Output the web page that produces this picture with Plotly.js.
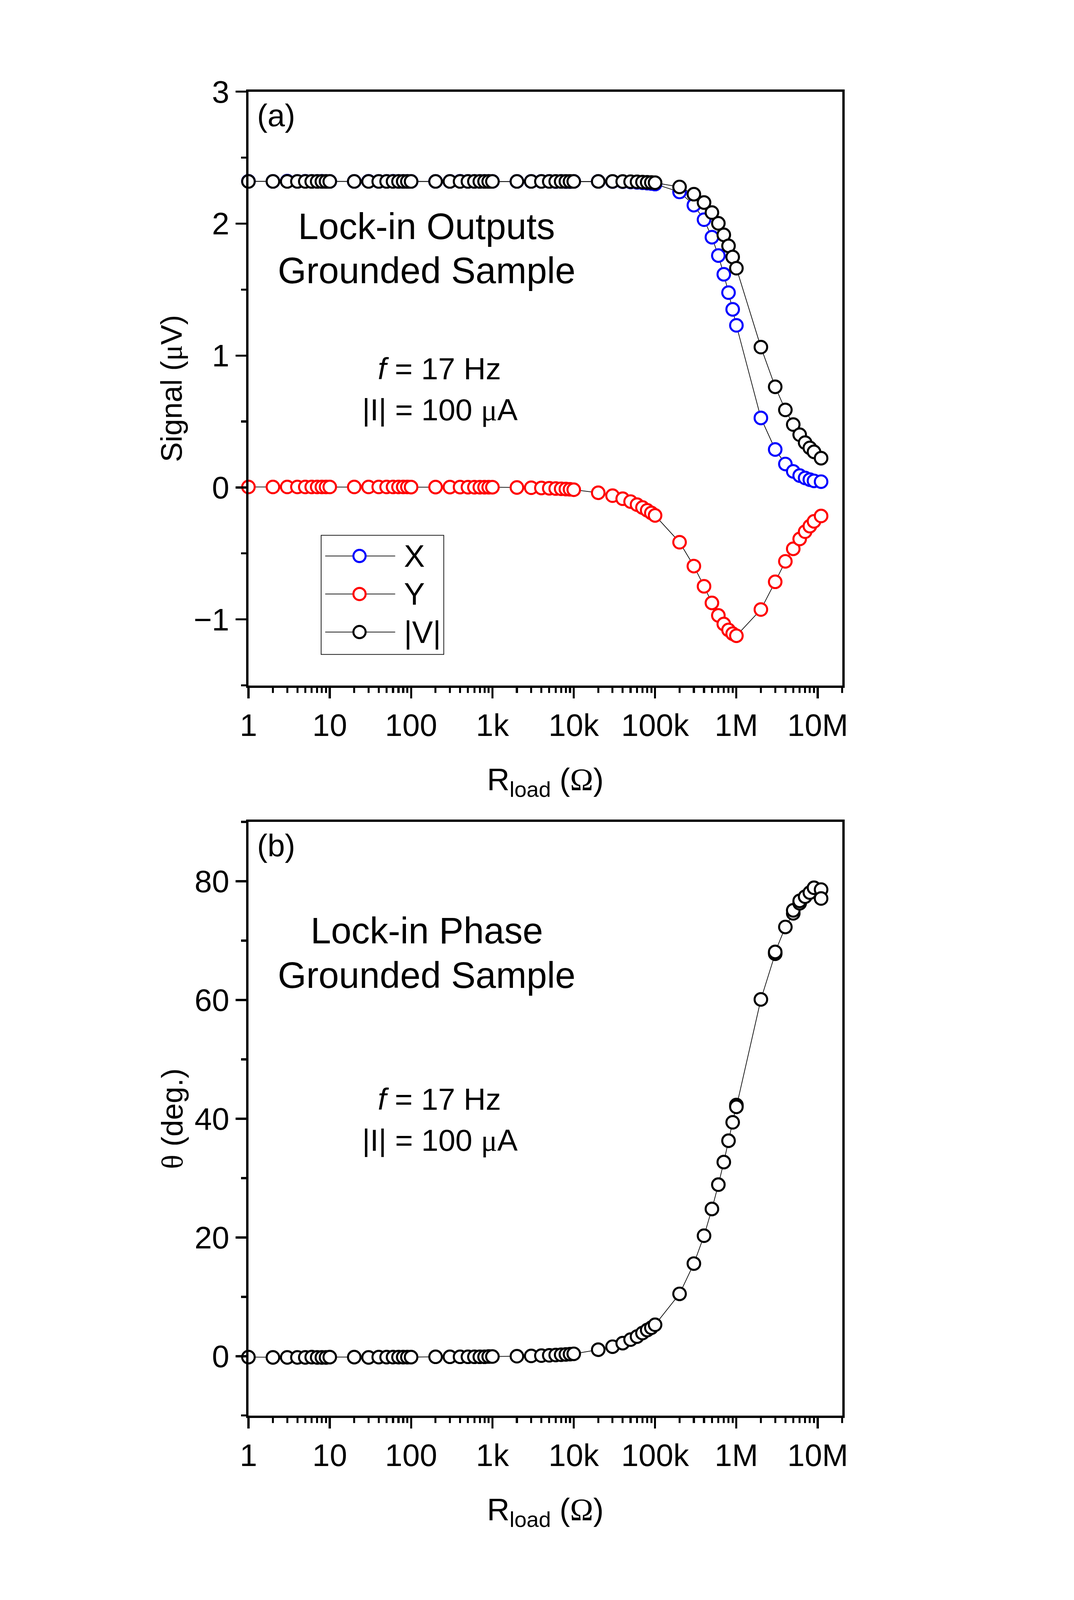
<!DOCTYPE html>
<html>
<head>
<meta charset="utf-8">
<script src="https://cdn.plot.ly/plotly-3.0.1.min.js"></script>
<style>
  html, body { margin: 0; padding: 0; background: #fff; overflow: hidden; }
</style>
</head>
<body>
<div id="chart"></div>
<script>
// lock-in outputs vs load resistance, grounded sample

// load resistance (ohm), shared by X, Y and |V|
var rLoad = [1, 2, 3, 4, 5, 6, 7, 8, 9,
  10, 20, 30, 40, 50, 60, 70, 80, 90,
  100, 200, 300, 400, 500, 600, 700, 800, 900,
  1e3, 2e3, 3e3, 4e3, 5e3, 6e3, 7e3, 8e3, 9e3,
  1e4, 2e4, 3e4, 4e4, 5e4, 6e4, 7e4, 8e4, 9e4,
  1e5, 2e5, 3e5, 4e5, 5e5, 6e5, 7e5, 8e5, 9e5,
  1e6, 2e6, 3e6, 4e6, 5e6, 6e6, 7e6, 8e6, 9e6,
  1.1e7];

// signal, uV
var sigX = [2.321, 2.32, 2.322, 2.32, 2.321, 2.32, 2.32, 2.321, 2.32,
  2.32, 2.32, 2.321, 2.32, 2.32, 2.321, 2.32, 2.32, 2.32,
  2.32, 2.32, 2.32, 2.321, 2.32, 2.32, 2.32, 2.32, 2.32,
  2.32, 2.32, 2.32, 2.32, 2.32, 2.319, 2.32, 2.319, 2.319,
  2.32, 2.32, 2.319, 2.318, 2.316, 2.313, 2.31, 2.307, 2.304,
  2.30, 2.24, 2.14, 2.03, 1.897, 1.758, 1.616, 1.477, 1.35,
  1.229, 0.527, 0.288, 0.178, 0.122, 0.09, 0.072, 0.059, 0.05,
  0.044];

var sigY = [0.004, 0.004, 0.004, 0.004, 0.004, 0.004, 0.004, 0.004, 0.004,
  0.004, 0.004, 0.004, 0.004, 0.004, 0.004, 0.004, 0.004, 0.004,
  0.003, 0.003, 0.003, 0.003, 0.002, 0.002, 0.002, 0.002, 0.002,
  0.002, 0.0, -0.002, -0.004, -0.006, -0.008, -0.01, -0.012, -0.014,
  -0.017, -0.04, -0.062, -0.085, -0.107, -0.13, -0.152, -0.173, -0.193,
  -0.212, -0.415, -0.596, -0.749, -0.875, -0.97, -1.035, -1.08, -1.108,
  -1.124, -0.925, -0.715, -0.56, -0.465, -0.39, -0.335, -0.293, -0.257,
  -0.216];

var sigV = [2.32, 2.32, 2.32, 2.32, 2.32, 2.32, 2.32, 2.32, 2.32,
  2.32, 2.32, 2.32, 2.32, 2.32, 2.32, 2.32, 2.32, 2.32,
  2.32, 2.32, 2.32, 2.32, 2.32, 2.32, 2.32, 2.32, 2.32,
  2.32, 2.32, 2.32, 2.32, 2.32, 2.32, 2.32, 2.32, 2.32,
  2.32, 2.32, 2.32, 2.319, 2.318, 2.317, 2.315, 2.313, 2.312,
  2.31, 2.278, 2.223, 2.16, 2.084, 2.002, 1.915, 1.831, 1.747,
  1.662, 1.064, 0.763, 0.588, 0.477, 0.40, 0.34, 0.30, 0.27,
  0.222];

// phase (deg.), with the repeated readings near the top end
var phaseR = [1, 2, 3, 4, 5, 6, 7, 8, 9,
  10, 20, 30, 40, 50, 60, 70, 80, 90,
  100, 200, 300, 400, 500, 600, 700, 800, 900,
  1e3, 2e3, 3e3, 4e3, 5e3, 6e3, 7e3, 8e3, 9e3,
  1e4, 2e4, 3e4, 4e4, 5e4, 6e4, 7e4, 8e4, 9e4,
  1e5, 2e5, 3e5, 4e5, 5e5, 6e5, 7e5, 8e5, 9e5,
  1e6, 1e6, 2e6, 3e6, 3e6, 4e6, 5e6, 5e6, 6e6, 6e6, 7e6, 8e6, 9e6,
  1.1e7, 1.1e7];
var phaseDeg = [-0.15, -0.2, -0.2, -0.2, -0.2, -0.15, -0.2, -0.2, -0.2,
  -0.15, -0.15, -0.2, -0.15, -0.15, -0.15, -0.15, -0.15, -0.15,
  -0.15, -0.1, -0.1, -0.1, -0.1, -0.1, -0.1, -0.1, -0.05,
  -0.05, 0.0, 0.05, 0.1, 0.15, 0.2, 0.25, 0.3, 0.35,
  0.4, 1.1, 1.6, 2.2, 2.8, 3.3, 3.9, 4.4, 4.8,
  5.3, 10.5, 15.6, 20.3, 24.8, 28.9, 32.7, 36.3, 39.4,
  42.3, 42.0, 60.1, 67.8, 68.1, 72.3, 74.6, 75.1, 76.3, 76.7, 77.4, 78.1, 78.9,
  78.6, 77.1];

var seriesNames = ['X', 'Y', '|V|'];
var seriesColors = ['#0000ff', '#ff0000', '#000000'];

var xTickVals = [1, 10, 100, 1e3, 1e4, 1e5, 1e6, 1e7];
var xTickText = ['1', '10', '100', '1k', '10k', '100k', '1M', '10M'];

// geometry is written in pixels of the 2749x4711 original; if the
// window is shorter, everything is scaled down evenly so nothing is cut
var REF_W = 2749, REF_H = 4711;
var S = Math.min(1, (window.innerWidth || REF_W) / REF_W, (window.innerHeight || REF_H) / REF_H);
var W = REF_W, H = Math.floor(REF_H * S);
var offX = (W - REF_W * S) / 2;
function px(v) { return (offX + v * S) / W; }
function py(v) { return 1 - (v * S) / H; }
function sz(v) { return v * S; }

var FONT = 'Liberation Sans, Arial, sans-serif';
var SERIF = 'Liberation Serif';

var minorX = [];
for (var k = 0; k <= 7; k++) {
  for (var m = 2; m <= 9; m++) {
    if (m * Math.pow(10, k) <= 2e7) minorX.push(m * Math.pow(10, k));
  }
}

function mkTrace(x, y, color, name, xa, ya) {
  return {
    x: x, y: y, name: name,
    type: 'scatter', mode: 'lines+markers',
    xaxis: xa, yaxis: ya,
    line: {color: 'black', width: sz(2)},
    marker: {symbol: 'circle', size: sz(37), color: 'white',
             line: {color: color, width: sz(6)}},
    showlegend: false,
    cliponaxis: false
  };
}

var data = [
  mkTrace(rLoad, sigX, seriesColors[0], seriesNames[0], 'x', 'y'),
  mkTrace(rLoad, sigY, seriesColors[1], seriesNames[1], 'x', 'y'),
  mkTrace(rLoad, sigV, seriesColors[2], seriesNames[2], 'x', 'y'),
  mkTrace(phaseR, phaseDeg, 'black', 'theta', 'x2', 'y2')
];

function xAxis(anchor, dom) {
  return {
    type: 'log', range: [0, Math.log10(2e7)], domain: dom, anchor: anchor,
    tickmode: 'array', tickvals: xTickVals, ticktext: xTickText,
    ticks: 'outside', ticklen: sz(31), tickwidth: sz(6), tickcolor: 'black',
    minor: {tickmode: 'array', tickvals: minorX, ticks: 'outside',
            ticklen: sz(15), tickwidth: sz(6), tickcolor: 'black', showgrid: false},
    showline: true, linewidth: sz(7), linecolor: 'black', mirror: true,
    showgrid: false, zeroline: false,
    tickfont: {family: FONT, size: sz(92), color: 'black'},
    ticklabelstandoff: sz(-24),
    title: {text: 'R<sub>load</sub> (<span style="font-family:' + SERIF + '">Ω</span>)',
            font: {family: FONT, size: sz(92), color: 'black'}, standoff: sz(80)}
  };
}

function yAxis(anchor, dom, range, dtick, minorDtick, title) {
  return {
    range: range, domain: dom, anchor: anchor,
    tick0: 0, dtick: dtick,
    ticks: 'outside', ticklen: sz(31), tickwidth: sz(6), tickcolor: 'black',
    minor: {tick0: 0, dtick: minorDtick, ticks: 'outside',
            ticklen: sz(15), tickwidth: sz(6), tickcolor: 'black', showgrid: false},
    showline: true, linewidth: sz(7), linecolor: 'black', mirror: true,
    showgrid: false, zeroline: false,
    tickfont: {family: FONT, size: sz(92), color: 'black'},
    ticklabelstandoff: sz(4),
    title: {text: title, font: {family: FONT, size: sz(88), color: 'black'}, standoff: sz(8)}
  };
}

var xDom = [px(525), px(2273)];

function note(text, x, y, size, anchor) {
  return {
    text: text, xref: 'paper', yref: 'paper',
    x: px(x), y: py(y), xanchor: anchor || 'center', yanchor: 'middle',
    showarrow: false, font: {family: FONT, size: sz(size), color: 'black'}
  };
}

var annotations = [
  note('(a)', 548, 340, 92, 'left'),
  note('Lock-in Outputs', 1050, 666, 108),
  note('Grounded Sample', 1050, 797, 108),
  note('<i>f</i> = 17 Hz', 1087, 1086, 90),
  note('|I| = 100 <span style="font-family:' + SERIF + '">μ</span>A', 1089, 1207, 90),
  note('(b)', 548, 2490, 92, 'left'),
  note('Lock-in Phase', 1050, 2740, 108),
  note('Grounded Sample', 1050, 2871, 108),
  note('<i>f</i> = 17 Hz', 1087, 3236, 90),
  note('|I| = 100 <span style="font-family:' + SERIF + '">μ</span>A', 1089, 3357, 90)
];

// hand-built legend box for panel (a)
var shapes = [{
  type: 'rect', xref: 'paper', yref: 'paper',
  x0: px(739), x1: px(1100), y0: py(1576), y1: py(1927),
  line: {color: 'black', width: sz(2)}, fillcolor: 'white', layer: 'above'
}];
var legendRows = [1637, 1749, 1861];
for (var i = 0; i < seriesNames.length; i++) {
  var yy = legendRows[i];
  shapes.push({
    type: 'line', xref: 'paper', yref: 'paper',
    x0: px(751), x1: px(957), y0: py(yy), y1: py(yy),
    line: {color: 'black', width: sz(2)}, layer: 'above'
  });
  shapes.push({
    type: 'circle', xref: 'paper', yref: 'paper',
    x0: px(852 - 18), x1: px(852 + 18), y0: py(yy + 18), y1: py(yy - 18),
    line: {color: seriesColors[i], width: sz(6)}, fillcolor: 'white', layer: 'above'
  });
  annotations.push(note(seriesNames[i], 981, yy, 92, 'left'));
}

var layout = {
  width: W, height: H,
  margin: {l: 0, r: 0, t: 0, b: 0},
  paper_bgcolor: 'white', plot_bgcolor: 'white',
  showlegend: false,
  xaxis: xAxis('y', xDom),
  yaxis: yAxis('x', [py(2018), py(270)], [-1.5, 3], 1, 0.5, 'Signal (<span style="font-family:' + SERIF + '">μ</span>V)'),
  xaxis2: xAxis('y2', xDom),
  yaxis2: yAxis('x2', [py(4168), py(2420)], [-10, 90], 20, 10, '<span style="font-family:' + SERIF + '">θ</span> (deg.)'),
  annotations: annotations,
  shapes: shapes
};

Plotly.newPlot('chart', data, layout, {displayModeBar: false, staticPlot: true});
</script>
</body>
</html>
